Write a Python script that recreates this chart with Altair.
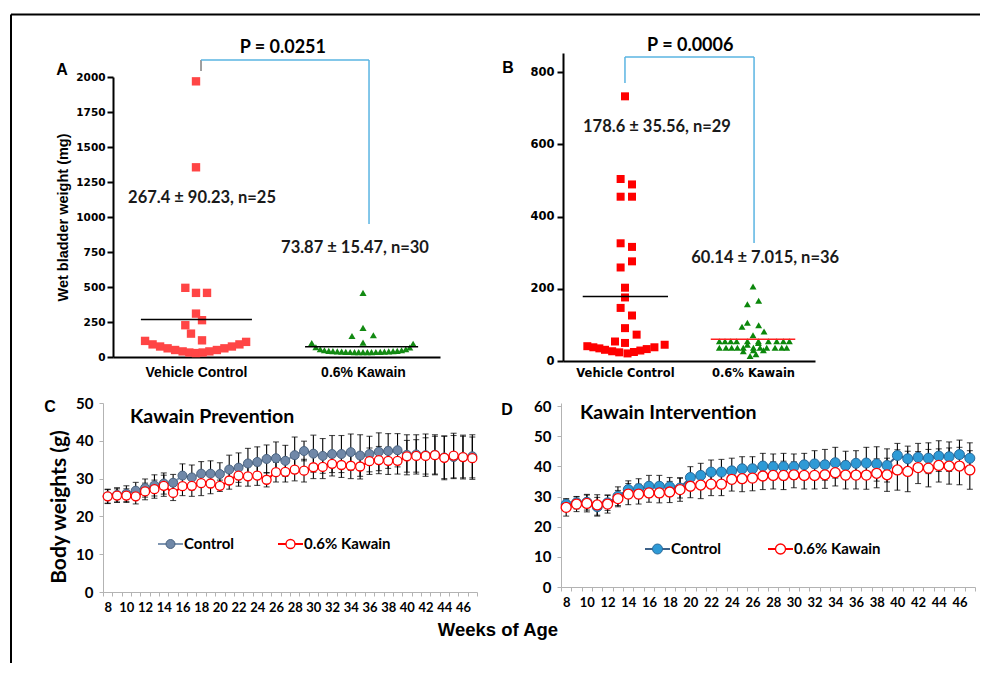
import altair as alt
import pandas as pd

ARIAL = "Liberation Sans"
CAL = "Lato"
VERD = "DejaVu Sans"

W, H = 972, 655   # whole drawing area (page minus 8px margin)

# ---------------- data : panel A (wet bladder weight, prevention) ----------------
a_groups = ["Vehicle Control", "0.6% Kawain"]
a_ctrl_val = [1969, 1355, 494, 458, 458, 310, 263, 227, 167, 119,
              115, 90, 75, 62, 50, 40, 32, 28, 32, 40, 50, 62, 75, 90, 108]
a_ctrl_jit = [0, 0, -0.064, 0, 0.066, 0, 0.036, -0.064, -0.03, 0.036,
              -0.305, -0.26, -0.215, -0.17, -0.125, -0.08, -0.04, 0, 0.04, 0.08,
              0.125, 0.17, 0.215, 0.26, 0.30]
a_kaw_val = [458, 208, 150, 155, 103,
             100, 70, 55, 48, 44, 42, 40, 38, 37, 36, 35, 35, 35,
             35, 35, 36, 37, 38, 40, 42, 44, 48, 55, 68, 95]
a_kaw_jit = [0, 0, -0.066, 0.062, 0,
             -0.307, -0.282, -0.256, -0.231, -0.205, -0.18, -0.154, -0.128, -0.103,
             -0.077, -0.051, -0.026, 0, 0.026, 0.051, 0.077, 0.103, 0.128, 0.154,
             0.18, 0.205, 0.231, 0.256, 0.28, 0.30]
a_means = [267.4, 73.87]
a_stats = ["267.4 ± 90.23, n=25", "73.87 ± 15.47, n=30"]
a_p = "P = 0.0251"

# ---------------- data : panel B (wet bladder weight, intervention) ----------------
b_groups = ["Vehicle Control", "0.6% Kawain"]
b_ctrl_val = [733, 504, 489, 455, 455, 326, 316, 276, 259, 203, 176, 147, 126, 91, 73, 54, 50,
              41, 38, 35, 31, 27, 24, 21, 25, 29, 33, 38, 45]
b_ctrl_jit = [0, -0.034, 0.055, -0.034, 0.055, -0.034, 0.055, 0.055, -0.034, 0, 0, -0.034,
              0.055, 0, 0.091, -0.078, 0,
              -0.294, -0.247, -0.2, -0.156, -0.1, -0.045, 0.02, 0.07, 0.12, 0.17, 0.23, 0.31]
b_kaw_val = [206, 157, 167, 106, 95, 99, 82, 71,
             55, 55, 55, 55, 55, 55, 55, 55, 55, 55,
             37, 37, 37, 37, 37, 37, 37, 37, 37, 37, 37,
             14, 19, 45, 50, 30, 27, 30]
b_kaw_jit = [0, -0.044, 0.044, -0.044, -0.086, 0.044, 0.086, 0,
             -0.263, -0.219, -0.174, -0.128, -0.044, 0.042, 0.12, 0.185, 0.237, 0.284,
             -0.263, -0.211, -0.167, -0.122, -0.076, 0.003, 0.055, 0.107, 0.172, 0.224, 0.263,
             -0.023, 0.023, -0.044, 0.042, 0.003, -0.076, 0.081]
b_means = [178.6, 60.14]
b_stats = ["178.6 ± 35.56, n=29", "60.14 ± 7.015, n=36"]
b_p = "P = 0.0006"

# ---------------- data : panels C and D (body weights) ----------------
weeks = [8, 9, 10, 11, 12, 13, 14, 15, 16, 17, 18, 19, 20, 21, 22, 23, 24, 25, 26, 27,
         28, 29, 30, 31, 32, 33, 34, 35, 36, 37, 38, 39, 40, 41, 42, 43, 44, 45, 46, 47]
series_names = ["Control", "0.6% Kawain"]

c_ctrl = [25.3, 25.7, 26.0, 26.8, 27.5, 28.2, 28.7, 28.9,
          30.8, 30.3, 31.3, 31.3, 31.2, 32.4, 32.9, 34.0, 34.4, 35.2, 35.4, 34.7,
          36.2, 37.3, 36.6, 36.0, 36.5, 36.5, 37.0, 36.1, 36.5, 37.1, 37.3, 37.5,
          36.3, 36.4, 36.2, 36.3, 35.6, 35.7, 35.7, 35.9]
c_ctrl_err = [1.9, 1.9, 2.1, 2.2, 2.4, 2.8, 2.8, 2.2,
              3.1, 3.3, 3.2, 3.4, 3.0, 3.8, 3.9, 4.0, 4.0, 3.7, 4.3, 4.1,
              4.8, 2.6, 4.9, 4.6, 4.9, 4.9, 4.8, 5.5, 4.7, 5.0, 4.6, 4.4,
              5.3, 5.2, 5.6, 5.3, 5.6, 5.7, 5.5, 5.7]
c_kaw = [25.3, 25.5, 25.5, 25.3, 26.6, 27.2, 28.1, 26.2,
         28.0, 28.1, 28.8, 28.7, 28.1, 29.5, 30.8, 30.6, 30.8, 29.7, 31.7, 31.8,
         32.4, 32.1, 33.0, 33.1, 33.9, 33.6, 33.4, 33.2, 34.6, 34.9, 34.7, 34.7,
         35.9, 36.0, 36.0, 36.2, 35.5, 36.1, 35.7, 35.4]
c_kaw_err = [1.8, 1.8, 1.8, 2.0, 2.2, 2.4, 2.8, 2.0,
             2.5, 2.8, 3.3, 2.7, 1.5, 2.3, 2.8, 2.6, 2.6, 1.9, 2.6, 2.7,
             3.0, 3.0, 3.0, 3.1, 3.2, 3.3, 3.4, 3.3, 3.5, 3.6, 3.6, 3.5,
             4.2, 4.3, 4.8, 5.0, 5.8, 5.9, 5.8, 5.6]

d_ctrl = [27.4, 27.9, 28.1, 26.6, 27.9, 30.1, 32.3, 32.6,
          33.4, 33.4, 33.2, 32.8, 36.3, 37.0, 38.1, 38.1, 38.5, 39.2, 39.2, 40.1,
          39.9, 39.9, 39.9, 40.5, 40.8, 40.5, 41.2, 40.3, 41.0, 41.1, 40.8, 40.3,
          43.6, 42.5, 43.0, 42.7, 43.4, 43.2, 43.9, 42.7]
d_ctrl_err = [1.7, 2.0, 2.6, 3.1, 2.5, 3.1, 2.9, 3.3,
              3.6, 3.6, 3.1, 3.3, 3.6, 4.0, 4.0, 4.2, 4.2, 4.0, 4.0, 4.2,
              4.2, 4.4, 4.2, 3.8, 4.4, 5.1, 5.1, 4.7, 4.2, 5.2, 5.7, 5.5,
              4.0, 4.2, 4.6, 5.1, 5.1, 4.9, 4.8, 5.1]
d_kaw = [26.4, 27.5, 27.7, 27.2, 27.5, 29.3, 30.8, 30.8,
         31.2, 31.2, 31.5, 32.3, 33.4, 33.8, 34.1, 34.1, 35.7, 35.9, 36.1, 36.8,
         37.0, 37.0, 37.2, 37.0, 37.0, 37.2, 37.9, 37.1, 37.1, 37.1, 37.7, 37.2,
         38.8, 38.3, 39.6, 39.4, 40.3, 40.1, 40.1, 38.8]
d_kaw_err = [2.9, 2.5, 2.8, 3.4, 3.0, 2.7, 3.5, 3.3,
             3.1, 3.3, 3.5, 3.9, 3.8, 4.5, 3.8, 3.8, 3.9, 4.3, 4.2, 4.5,
             4.5, 4.7, 4.3, 4.5, 4.5, 4.5, 4.4, 4.6, 4.6, 4.7, 4.8, 5.5,
             6.7, 6.7, 5.3, 6.2, 5.5, 6.0, 6.2, 6.4]


# ---------------- helpers ----------------
def qscale(dom, rng):
    return alt.Scale(domain=dom, range=rng, nice=False, zero=False)


def label_text(text, x, y, size, font=CAL, align="center", color="black", angle=None):
    kw = dict(font=font, fontSize=size, fontWeight="bold", color=color, align=align)
    if angle is not None:
        kw["angle"] = angle
    return alt.Chart(pd.DataFrame({"t": [text]})).mark_text(**kw).encode(
        x=alt.value(x), y=alt.value(y), text="t:N")


def scatter_panel(groups, cv, cj, kv, kj, means, mean_span, mean_colors, stats, stats_pos,
                  ptext, ppos, bracket, bracket_colors, xdom, xrng, ydom, yrng, yvals,
                  sq_color, sq_size, tri_color, tri_size, yaxis_kw, xaxis_kw, letter, letter_pos):
    lbl = f"datum.value == 1 ? '{groups[0]}' : datum.value == 2 ? '{groups[1]}' : ''"
    X = alt.X("x:Q", scale=qscale(xdom, xrng),
              axis=alt.Axis(orient="bottom", offset=yrng[0] - H, values=[1, 2], labelExpr=lbl,
                            title=None, ticks=False, grid=False, domainColor="black",
                            domainWidth=2, labelColor="black", labelFontWeight="bold",
                            labelOverlap=False, **xaxis_kw))
    Y = alt.Y("v:Q", scale=qscale(ydom, yrng),
              axis=alt.Axis(orient="left", offset=-xrng[0], values=yvals, format="d", grid=False,
                            domainColor="black", domainWidth=2,
                            tickColor="black", tickWidth=2, tickSize=6,
                            labelColor="black", labelFontWeight="bold", titleColor="black",
                            titleFontWeight="bold", **yaxis_kw))
    ctrl = pd.DataFrame({"x": [1 + j for j in cj], "v": cv})
    kaw = pd.DataFrame({"x": [2 + j for j in kj], "v": kv})
    mdf = pd.DataFrame({"x": [1 + mean_span[0][0], 2 + mean_span[1][0]],
                        "x2": [1 + mean_span[0][1], 2 + mean_span[1][1]],
                        "v": means, "c": mean_colors})
    bdf = pd.DataFrame({"x": [b[0] for b in bracket], "x2": [b[1] for b in bracket],
                        "v": [b[2] for b in bracket], "v2": [b[3] for b in bracket],
                        "c": bracket_colors})
    sdf = pd.DataFrame({"x": [p[0] for p in stats_pos], "v": [p[1] for p in stats_pos], "t": stats})
    pdf = pd.DataFrame({"x": [ppos[0]], "v": [ppos[1]], "t": [ptext]})
    layers = [
        alt.Chart(ctrl).mark_square(size=sq_size, color=sq_color, opacity=1).encode(x=X, y=Y),
        alt.Chart(kaw).mark_point(shape="triangle-up", filled=True, size=tri_size,
                                  color=tri_color, opacity=1).encode(x=X, y=Y),
        alt.Chart(mdf).mark_rule(strokeWidth=1.5).encode(
            x=X, x2="x2:Q", y=Y, color=alt.Color("c:N", scale=None)),
        alt.Chart(bdf).mark_rule(strokeWidth=1.5).encode(
            x=X, x2="x2:Q", y=Y, y2="v2:Q", color=alt.Color("c:N", scale=None)),
        alt.Chart(sdf).mark_text(font=CAL, fontSize=16.5, fontWeight="bold",
                                 color="#1a1a1a").encode(x=X, y=Y, text="t:N"),
        alt.Chart(pdf).mark_text(font=CAL, fontSize=18, fontWeight="bold",
                                 color="black").encode(x=X, y=Y, text="t:N"),
        label_text(letter, letter_pos[0], letter_pos[1], 16, font=ARIAL),
    ]
    return alt.layer(*layers)


panelA = scatter_panel(
    a_groups, a_ctrl_val, a_ctrl_jit, a_kaw_val, a_kaw_jit, a_means,
    [(-0.33, 0.335), (-0.347, 0.33)], ["black", "black"],
    a_stats, [(1.036, 1136), (1.952, 779)], a_p, (1.52, 2207),
    [(1.03, 1.03, 2043, 2121), (1.03, 2.036, 2121, 2121), (2.036, 2.036, 2121, 950)],
    ["#808080", "#5ab4e2", "#5ab4e2"],
    [0.503, 2.461], [105, 432], [0, 2000], [349, 69], list(range(0, 2001, 250)),
    "#ff4545", 70, "#138a13", 50,
    dict(title="Wet bladder weight (mg)", labelFont=VERD, labelFontSize=10.5,
         labelPadding=2, titleFont=ARIAL, titleFontSize=14.5, titlePadding=5),
    dict(labelFont=ARIAL, labelFontSize=14, labelPadding=8),
    "A", (54, 62))

panelB = scatter_panel(
    b_groups, b_ctrl_val, b_ctrl_jit, b_kaw_val, b_kaw_jit, b_means,
    [(-0.33, 0.336), (-0.33, 0.33)], ["black", "#ff2020"],
    b_stats, [(1.25, 648), (2.095, 285)], b_p, (1.51, 872),
    [(1.0, 1.0, 770, 842), (1.0, 2.008, 842, 842), (2.008, 2.008, 842, 327)],
    ["#5ab4e2", "#5ab4e2", "#5ab4e2"],
    [0.516, 2.484], [555, 807], [0, 853], [353, 45], [0, 200, 400, 600, 800],
    "#ff0000", 64, "#0b870b", 48,
    dict(title=None, labelFont=VERD, labelFontSize=11.5, labelPadding=3),
    dict(labelFont=VERD, labelFontSize=11.5, labelPadding=6),
    "B", (500, 60))


def weight_panel(ctrl, ctrl_err, kaw, kaw_err, xrng, ydom, yrng, yvals, title, title_pos,
                 letter, letter_pos, ctrl_fill, ctrl_stroke, ctrl_line, msize, leg_y, leg_x):
    X = alt.X("week:O",
              scale=alt.Scale(type="band", range=xrng, paddingInner=0, paddingOuter=0),
              axis=alt.Axis(orient="bottom", offset=yrng[0] - H, title=None, tickBand="extent",
                            labelAngle=0, labelExpr="datum.value % 2 == 0 ? datum.label : ''",
                            labelOverlap=False, labelFont=CAL, labelFontSize=13,
                            labelFontWeight="bold", labelColor="black", labelPadding=5,
                            domainColor="#b3b3b3", tickColor="#b3b3b3", tickSize=4))
    Y = alt.Y("v:Q", scale=qscale(ydom, yrng),
              axis=alt.Axis(orient="left", offset=-xrng[0], values=yvals, grid=False, title=None,
                            labelFont=CAL, labelFontSize=15, labelFontWeight="bold",
                            labelColor="black", labelPadding=6, labelOverlap=False,
                            domainColor="#b3b3b3", tickColor="#b3b3b3", tickSize=4))

    dc = pd.DataFrame({"week": weeks, "v": ctrl})
    dk = pd.DataFrame({"week": weeks, "v": kaw})
    layers = [alt.Chart(dc).mark_line(color=ctrl_line, strokeWidth=2).encode(x=X, y=Y)]
    for vals, errs in ((ctrl, ctrl_err), (kaw, kaw_err)):
        lo = [a - e for a, e in zip(vals, errs)]
        hi = [a + e for a, e in zip(vals, errs)]
        bars = pd.DataFrame({"week": weeks, "v": lo, "v2": hi})
        caps = pd.DataFrame({"week": weeks + weeks, "v": lo + hi})
        layers.append(alt.Chart(bars).mark_rule(color="black", strokeWidth=1.1).encode(
            x=X, y=Y, y2="v2:Q"))
        layers.append(alt.Chart(caps).mark_tick(color="black", thickness=1.1, size=6).encode(x=X, y=Y))
    layers.append(alt.Chart(dc).mark_point(shape="circle", filled=True, size=msize, fill=ctrl_fill,
                                           stroke=ctrl_stroke, strokeWidth=1, opacity=1).encode(x=X, y=Y))
    layers.append(alt.Chart(dk).mark_line(color="#ff0000", strokeWidth=2,
                                          interpolate="monotone").encode(x=X, y=Y))
    layers.append(alt.Chart(dk).mark_point(shape="circle", filled=True, size=msize, fill="white",
                                           stroke="#ff0000", strokeWidth=1.3, opacity=1).encode(x=X, y=Y))
    # legend, Excel style (line + marker + name)
    lc = pd.DataFrame({"t": [series_names[0]]})
    lk = pd.DataFrame({"t": [series_names[1]]})
    layers += [
        alt.Chart(lc).mark_rule(color=ctrl_line, strokeWidth=2).encode(
            x=alt.value(leg_x[0]), x2=alt.value(leg_x[0] + 25), y=alt.value(leg_y)),
        alt.Chart(lc).mark_point(shape="circle", filled=True, size=msize, fill=ctrl_fill,
                                 stroke=ctrl_stroke, strokeWidth=1, opacity=1).encode(
            x=alt.value(leg_x[0] + 12.5), y=alt.value(leg_y)),
        alt.Chart(lc).mark_text(align="left", font=CAL, fontSize=15, fontWeight="bold",
                                color="black").encode(
            x=alt.value(leg_x[0] + 26), y=alt.value(leg_y), text="t:N"),
        alt.Chart(lk).mark_rule(color="#ff0000", strokeWidth=2).encode(
            x=alt.value(leg_x[1]), x2=alt.value(leg_x[1] + 25), y=alt.value(leg_y)),
        alt.Chart(lk).mark_point(shape="circle", filled=True, size=msize, fill="white",
                                 stroke="#ff0000", strokeWidth=1.3, opacity=1).encode(
            x=alt.value(leg_x[1] + 12.5), y=alt.value(leg_y)),
        alt.Chart(lk).mark_text(align="left", font=CAL, fontSize=15, fontWeight="bold",
                                color="black").encode(
            x=alt.value(leg_x[1] + 26), y=alt.value(leg_y), text="t:N"),
        label_text(title, title_pos[0], title_pos[1], 19.5, align="left"),
        label_text(letter, letter_pos[0], letter_pos[1], 16, font=ARIAL),
    ]
    return alt.layer(*layers)


panelC = weight_panel(c_ctrl, c_ctrl_err, c_kaw, c_kaw_err, [95, 469], [0, 50], [584, 395],
                      [0, 10, 20, 30, 40, 50], "Kawain Prevention", (122, 409),
                      "C", (42, 399), "#7088a8", "#4a6380", "#7f96b2", 81, 536, (150, 270))
panelD = weight_panel(d_ctrl, d_ctrl_err, d_kaw, d_kaw_err, [553, 967], [0, 61], [579, 395],
                      [0, 10, 20, 30, 40, 50, 60], "Kawain Intervention", (572, 405),
                      "D", (499, 402), "#2e9ad6", "#2a6a9a", "#3e6289", 100, 541, (637, 760))

# figure frame (top and left edges of the boxed figure) and shared axis titles
frame = [
    alt.Chart(pd.DataFrame({"k": ["top"]})).mark_rule(strokeWidth=2, color="black").encode(
        x=alt.value(3), x2=alt.value(W), y=alt.value(6.5)),
    alt.Chart(pd.DataFrame({"k": ["left"]})).mark_rule(strokeWidth=2, color="black").encode(
        x=alt.value(3), y=alt.value(6.5), y2=alt.value(H)),
    label_text("Weeks of Age", 490, 622, 18.5, font=ARIAL),
    label_text("Body weights (g)", 52, 499, 21, angle=270),
]

chart = alt.layer(panelA, panelB, panelC, panelD, *frame).resolve_scale(
    x="independent", y="independent"
).properties(
    width=W, height=H, padding=0,
    autosize=alt.AutoSizeParams(type="none"),
    background="white",
).configure_view(stroke=None)

chart.save("out.html", embed_options={"renderer": "svg", "actions": False})
